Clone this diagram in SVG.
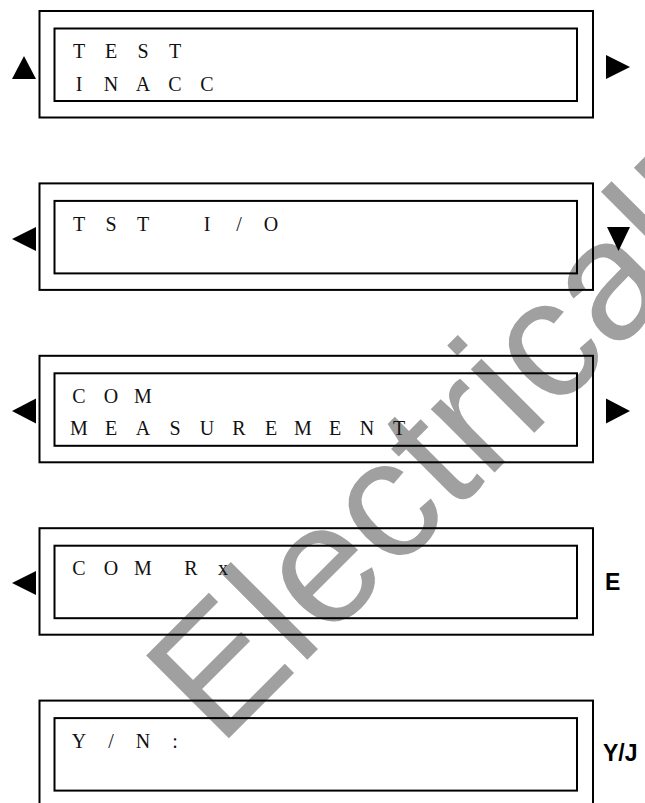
<svg xmlns="http://www.w3.org/2000/svg" width="645" height="803" viewBox="0 0 645 803">
<style>
.outer{fill:none;stroke:#000;stroke-width:2}
.inner{fill:none;stroke:#000;stroke-width:2}
.lcd{font-family:"Liberation Serif","Times New Roman",serif;font-size:20px;fill:#111;text-anchor:middle;white-space:pre}
.key{font-family:"Liberation Sans",Arial,sans-serif;font-weight:bold;font-size:23px;fill:#000}
.tri{fill:#000}
.wm{font-family:"Liberation Sans",Arial,sans-serif;font-size:170px;fill:#a0a0a0}
</style>
<rect width="645" height="803" fill="#fff"/>
<text class="wm" transform="translate(219,748) rotate(-45)">ElectricalPartManuals</text>
<g id="box1">
<rect class="outer" x="39.5" y="11" width="553.5" height="106.5"/>
<rect class="inner" x="54.5" y="28.5" width="522.5" height="72.5"/>
<text class="lcd" xml:space="preserve" x="79 95 111 127 143 159 175" y="57.5">T E S T</text>
<text class="lcd" xml:space="preserve" x="79 95 111 127 143 159 175 191 207" y="91">I N A C C</text>
<polygon class="tri" points="24,56 12,79 36,79"/>
<polygon class="tri" points="606,55 630,67 606,79"/>
</g>
<g id="box2">
<rect class="outer" x="39.5" y="183.4" width="553.5" height="106.5"/>
<rect class="inner" x="54.5" y="200.9" width="522.5" height="72.5"/>
<text class="lcd" xml:space="preserve" x="79 95 111 127 143 159 175 191 207 223 239 255 271" y="230.5">T S T   I / O</text>
<polygon class="tri" points="36,227 12,239 36,251"/>
<polygon class="tri" points="607,227 630,227 618.5,251"/>
</g>
<g id="box3">
<rect class="outer" x="39.5" y="355.8" width="553.5" height="106.5"/>
<rect class="inner" x="54.5" y="373.3" width="522.5" height="72.5"/>
<text class="lcd" xml:space="preserve" x="79 95 111 127 143" y="403">C O M</text>
<text class="lcd" xml:space="preserve" x="79 95 111 127 143 159 175 191 207 223 239 255 271 287 303 319 335 351 367 383 399" y="435">M E A S U R E M E N T</text>
<polygon class="tri" points="36,398.5 12,411 36,423.5"/>
<polygon class="tri" points="606,398.5 630,411 606,423.5"/>
</g>
<g id="box4">
<rect class="outer" x="39.5" y="528.2" width="553.5" height="106.5"/>
<rect class="inner" x="54.5" y="545.7" width="522.5" height="72.5"/>
<text class="lcd" xml:space="preserve" x="79 95 111 127 143 159 175 191 207 223" y="575">C O M  R x</text>
<polygon class="tri" points="36,571 12,583 36,595"/>
<text class="key" x="605" y="589.5">E</text>
</g>
<g id="box5">
<rect class="outer" x="39.5" y="700.6" width="553.5" height="106.5"/>
<rect class="inner" x="54.5" y="718.1" width="522.5" height="72.5"/>
<text class="lcd" xml:space="preserve" x="79 95 111 127 143 159 175" y="747.5">Y / N :</text>
<text class="key" x="603" y="761">Y/J</text>
</g>
<g id="connectors"></g>
</svg>
